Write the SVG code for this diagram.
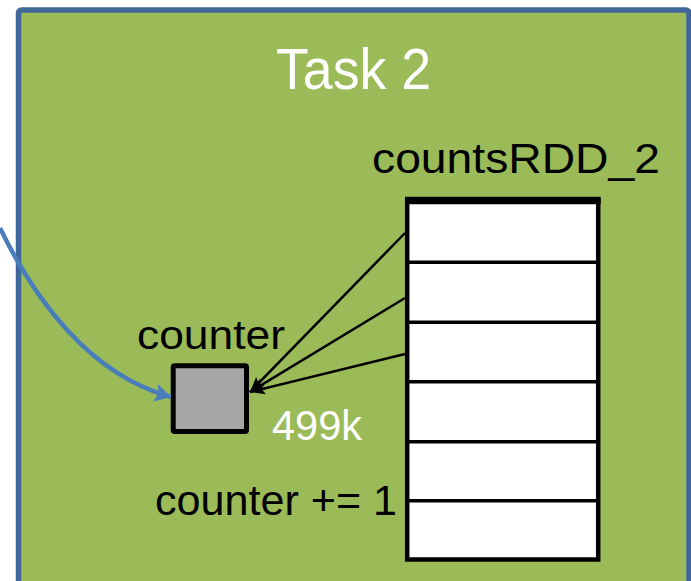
<svg xmlns="http://www.w3.org/2000/svg" width="691" height="581" viewBox="0 0 691 581">
<style>
.lbl{font-family:"Liberation Sans",Arial,sans-serif;fill:#000;}
.wht{fill:#fff;}
.cell{fill:#fff;stroke:#000;stroke-width:4.5;}
.div{stroke:#000;stroke-width:3.5;}
.ptr{stroke:#000;stroke-width:2.5;fill:none;marker-end:url(#ah);}
</style>
<defs>
<marker id="ah" markerUnits="userSpaceOnUse" markerWidth="18" markerHeight="14" refX="15" refY="6" orient="auto">
<path d="M0,0 L15,6 L0,12 L3,6 Z" fill="#000"/>
</marker>
<marker id="bh" markerUnits="userSpaceOnUse" markerWidth="20" markerHeight="20" refX="16" refY="9" orient="auto">
<path d="M0,0 L16,9 L0,18 L3,9 Z" fill="#4A7EBB"/>
</marker>
</defs>
<rect width="691" height="581" fill="#fff"/>
<g id="task2">
<rect x="18.5" y="10" width="670.5" height="600" rx="3" fill="#9BBB59" stroke="#41679A" stroke-width="5.5"/>
<text class="lbl wht" x="276" y="89" font-size="58" textLength="155" lengthAdjust="spacingAndGlyphs">Task 2</text>
</g>
<g id="countsRDD_2">
<text class="lbl" x="372" y="173" font-size="42" textLength="288" lengthAdjust="spacingAndGlyphs">countsRDD_2</text>
<rect class="cell" x="407.2" y="200.5" width="191" height="359"/>
<line x1="405" y1="200.5" x2="600.7" y2="200.5" stroke="#000" stroke-width="7.5"/>
<line class="div" x1="407" y1="262.3" x2="598" y2="262.3"/>
<line class="div" x1="407" y1="322.3" x2="598" y2="322.3"/>
<line class="div" x1="407" y1="381.7" x2="598" y2="381.7"/>
<line class="div" x1="407" y1="441.7" x2="598" y2="441.7"/>
<line class="div" x1="407" y1="500.7" x2="598" y2="500.7"/>
</g>
<g id="counter">
<text class="lbl" x="137" y="349" font-size="41" textLength="148" lengthAdjust="spacingAndGlyphs">counter</text>
<rect x="173.2" y="365.8" width="73.3" height="65.7" rx="1.5" fill="#A6A6A6" stroke="#000" stroke-width="5"/>
<text class="lbl wht" x="272" y="440" font-size="42" textLength="90" lengthAdjust="spacingAndGlyphs">499k</text>
</g>
<g id="increment">
<text class="lbl" x="155" y="515" font-size="42" textLength="242" lengthAdjust="spacingAndGlyphs">counter += 1</text>
</g>
<g id="connectors">
<line class="ptr" x1="405" y1="233" x2="250" y2="392"/>
<line class="ptr" x1="405" y1="298" x2="250" y2="392"/>
<line class="ptr" x1="405" y1="354" x2="250" y2="392"/>
<path d="M0,228 C35,300 90,375 171,397" fill="none" stroke="#4A7EBB" stroke-width="4.5" marker-end="url(#bh)"/>
</g>
</svg>
